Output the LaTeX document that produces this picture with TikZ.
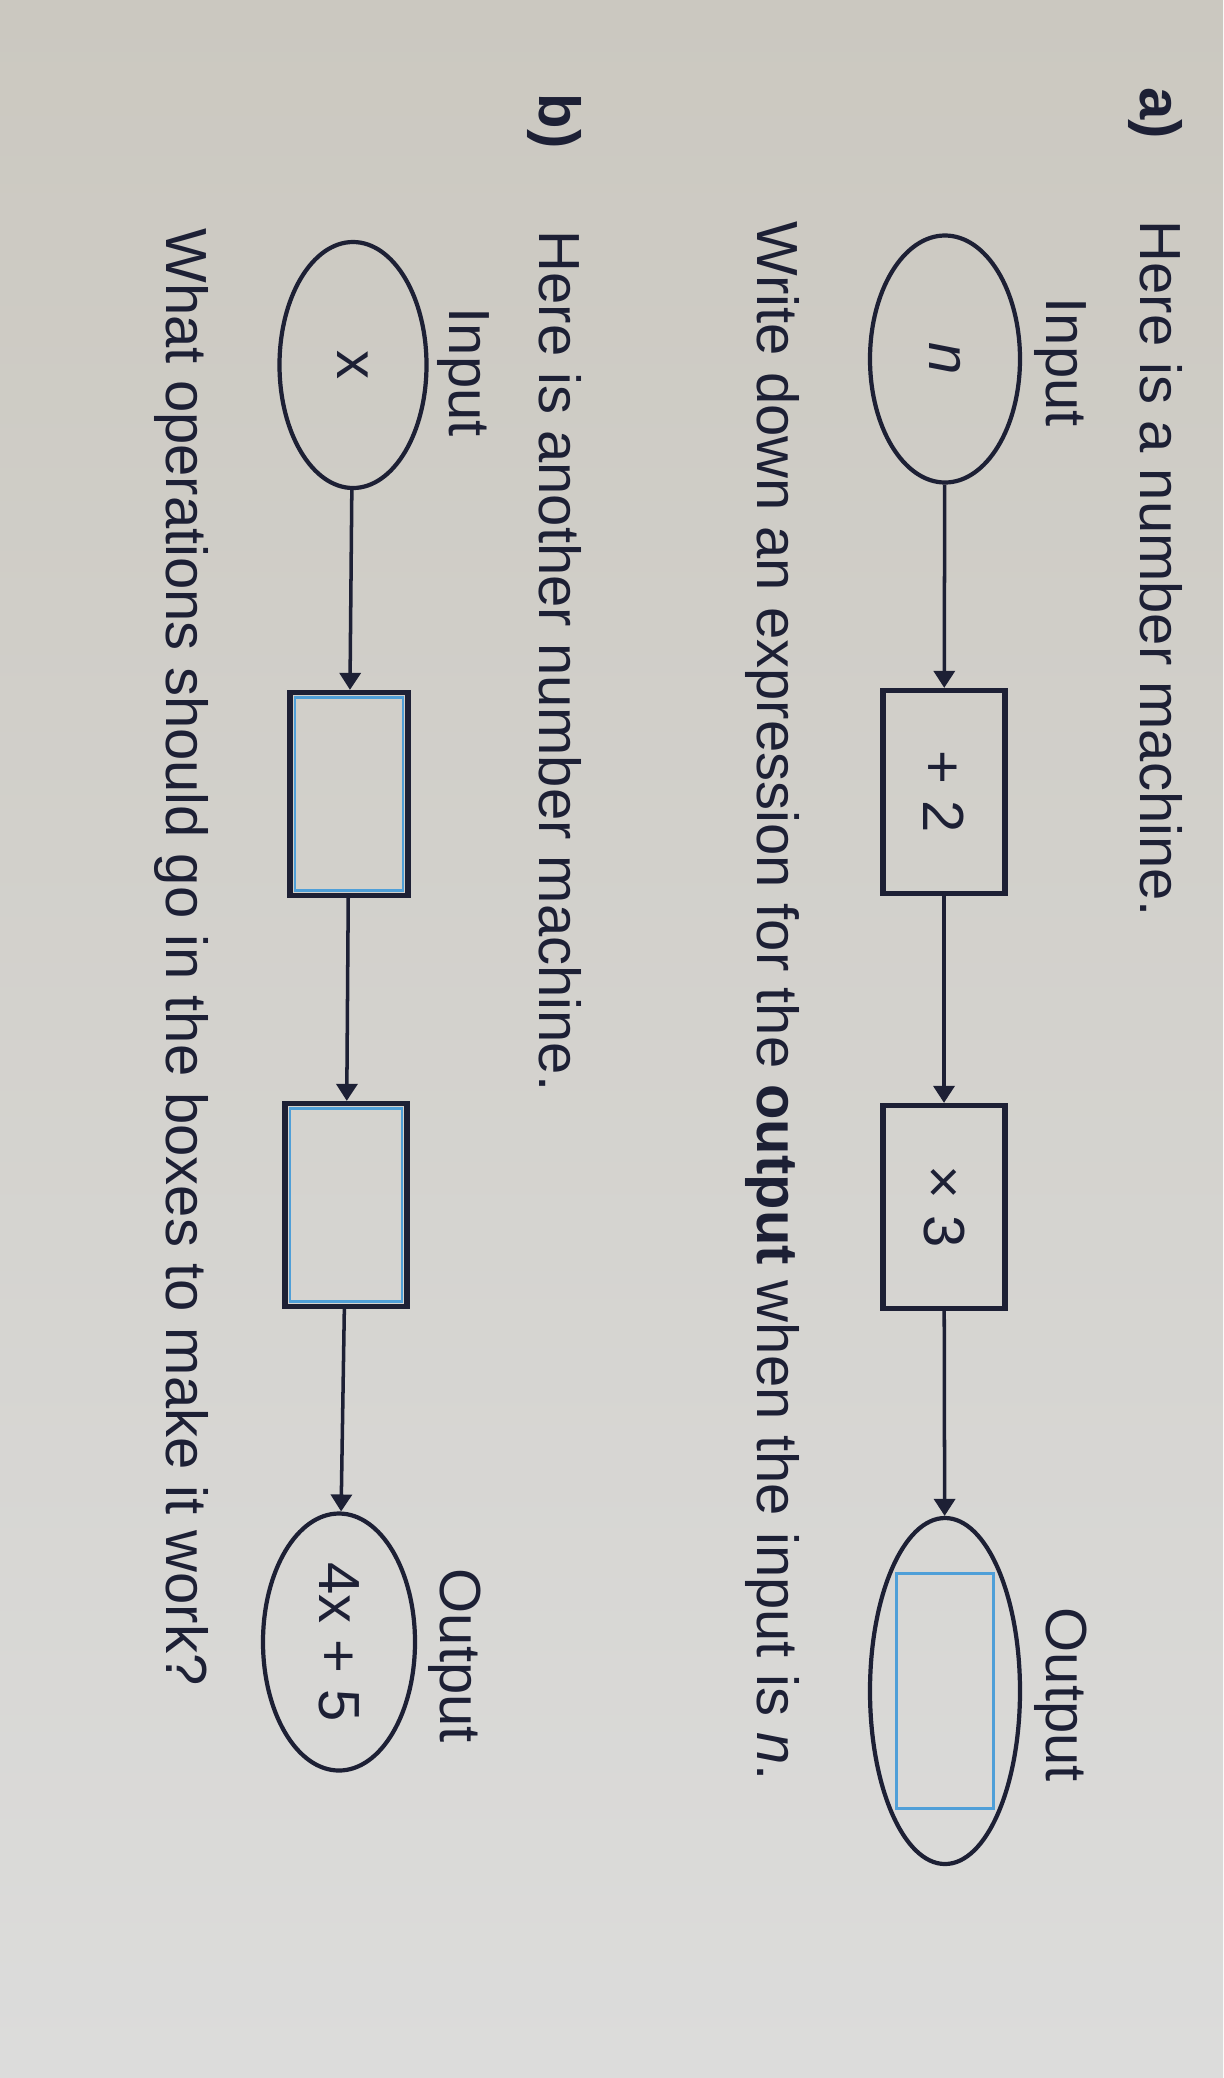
\documentclass[tikz,border=0pt]{standalone}
\usepackage{fontspec}
\setmainfont{Liberation Sans}
\usetikzlibrary{arrows.meta,calc,shapes.geometric}
\definecolor{ink}{HTML}{1D2035}
\definecolor{answer}{HTML}{4F9FD8}
\definecolor{papertop}{HTML}{CBC8C0}
\definecolor{paperbot}{HTML}{DCDCDB}
\newcommand{\qsize}{\fontsize{16.5pt}{19pt}\selectfont}
\tikzset{
  prompt/.style={font=\qsize, text=ink, inner sep=0pt, rotate=-90, anchor=base west},
  parttag/.style={prompt, font=\qsize\bfseries},
  inout/.style={
    ellipse,
    draw=ink,
    line width=1.2pt,
    rotate=-90,
    inner sep=0pt,
    font=\qsize,
    text=ink
  },
  opbox/.style={
    rectangle,
    draw=ink,
    line width=1.5pt,
    rotate=-90,
    minimum width=2.03cm,
    minimum height=1.22cm,
    inner sep=0pt,
    font=\qsize,
    text=ink
  },
  blankbox/.style={
    rectangle,
    draw=ink,
    line width=1.5pt,
    minimum width=1.22cm,
    minimum height=2.03cm,
    inner sep=0pt,
    path picture={\draw[answer, line width=0.7pt]
      ([shift={(0.05,0.05)}]path picture bounding box.south west) rectangle
      ([shift={(-0.05,-0.05)}]path picture bounding box.north east);}
  },
  answerslot/.style={
    path picture={\draw[answer, line width=0.8pt]
      ($(path picture bounding box.center)+(-1.175,-0.485)$) rectangle +(2.35,0.97);}
  },
  flow/.style={draw=ink, line width=1pt, -{Triangle[length=1.7mm, width=2.1mm]}}
}

\begin{document}
\begin{tikzpicture}[x=1cm,y=1cm]

% --- Paper ---
\shade[top color=papertop, bottom color=paperbot] (0,0) rectangle (12.23,-20.78);
\useasboundingbox (0,0) rectangle (12.23,-20.78);

% --- Part a ---
\node[parttag] (taga) at (11.40,-0.87) {a)};
\node[prompt] (heada) at (11.40,-2.20) {Here is a number machine.};
\node[prompt] (inlabela) at (10.46,-2.97) {Input};
\node[prompt] (outlabela) at (10.46,-16.07) {Output};

\node[inout, minimum width=2.47cm, minimum height=1.50cm] (ina) at (9.45,-3.59) {\textit{n}};
\node[opbox] (plustwo) at (9.44,-7.92) {+ 2};
\node[opbox] (timesthree) at (9.44,-12.07) {× 3};
\node[inout, answerslot, minimum width=3.46cm, minimum height=1.50cm] (outa) at (9.45,-16.91) {};

\draw[flow] (ina) -- (plustwo);
\draw[flow] (plustwo) -- (timesthree);
\draw[flow] (timesthree) -- (outa);

\node[prompt] (taska) at (7.57,-2.21)
  {Write down an expression for the \textbf{output} when the input is \textit{n}.};

% --- Part b ---
\node[parttag] (tagb) at (5.39,-0.93) {b)};
\node[prompt] (headb) at (5.39,-2.30) {Here is another number machine.};
\node[prompt] (inlabelb) at (4.49,-3.07) {Input};
\node[prompt] (outlabelb) at (4.40,-15.68) {Output};

\node[inout, minimum width=2.46cm, minimum height=1.47cm] (inb) at (3.53,-3.65) {x};
\node[blankbox, minimum width=1.18cm] (blankone) at (3.49,-7.94) {};
\node[blankbox] (blanktwo) at (3.46,-12.05) {};
\node[inout, minimum width=2.57cm, minimum height=1.52cm] (outb) at (3.39,-16.42) {4x + 5};

\draw[flow] (inb) -- (blankone);
\draw[flow] (blankone) -- (blanktwo);
\draw[flow] (blanktwo) -- (outb);

\node[prompt] (taskb) at (1.66,-2.28)
  {What operations should go in the boxes to make it work?};

\end{tikzpicture}
\end{document}
